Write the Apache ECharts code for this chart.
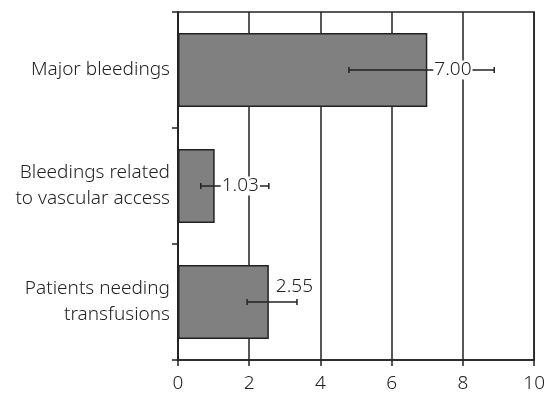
<!DOCTYPE html>
<html>
<head>
<meta charset="utf-8">
<script src="https://cdn.jsdelivr.net/npm/echarts@6/dist/echarts.min.js"></script>
<style>html,body{margin:0;padding:0;background:#fff}#c{width:548px;height:394px}</style>
</head>
<body>
<div id="c"></div>
<script>
var categories = ['Major bleedings', 'Bleedings related\nto vascular access', 'Patients needing\ntransfusions'];
var values = [7.00, 1.03, 2.55];
var errLow = [4.80, 0.64, 1.94];
var errHigh = [8.88, 2.55, 3.34];
var xTicks = [0, 2, 4, 6, 8, 10];

var FONT = '"Noto Sans", sans-serif';
var LINE = '#222';
var chart = echarts.init(document.getElementById('c'));
chart.setOption({
  animation: false,
  grid: { left: 178, right: 13, top: 12, bottom: 34, show: true, borderColor: LINE, borderWidth: 1.5, backgroundColor: 'transparent' },
  xAxis: {
    type: 'value', min: xTicks[0], max: xTicks[xTicks.length - 1], interval: 2,
    axisLine: { show: true, lineStyle: { color: LINE, width: 1.5 } },
    axisTick: { show: true, length: 6, lineStyle: { color: LINE, width: 1.5 } },
    splitLine: { show: true, lineStyle: { color: LINE, width: 1.5 } },
    axisLabel: { color: '#222', fontSize: 19, fontFamily: FONT, fontWeight: 300, margin: 14 }
  },
  yAxis: {
    type: 'category', data: categories, inverse: true,
    axisLine: { show: true, lineStyle: { color: LINE, width: 1.5 } },
    axisTick: { show: true, length: 6, lineStyle: { color: LINE, width: 1.5 } },
    splitLine: { show: false },
    axisLabel: { color: '#222', fontSize: 19, fontFamily: FONT, fontWeight: 300, margin: 8, lineHeight: 26, align: 'right' }
  },
  series: [
    {
      type: 'bar', data: values, barWidth: '64%', z: 2,
      itemStyle: { color: '#808080', borderColor: LINE, borderWidth: 1.5 },
      label: { show: false }
    },
    {
      type: 'custom', z: 3,
      data: values.map(function (v, i) { return [errLow[i], errHigh[i], i, v]; }),
      encode: { x: [0, 1], y: 2 },
      renderItem: function (params, api) {
        var i = api.value(2);
        var lo = api.coord([api.value(0), i]);
        var hi = api.coord([api.value(1), i]);
        var end = api.coord([api.value(3), i]);
        var cap = 3;
        var ls = { stroke: LINE, lineWidth: 1.5 };
        var dy = (i === 2) ? -15 : 0;
        return {
          type: 'group',
          children: [
            { type: 'line', shape: { x1: lo[0], y1: lo[1], x2: hi[0], y2: hi[1] }, style: ls },
            { type: 'line', shape: { x1: lo[0], y1: lo[1] - cap, x2: lo[0], y2: lo[1] + cap }, style: ls },
            { type: 'line', shape: { x1: hi[0], y1: hi[1] - cap, x2: hi[0], y2: hi[1] + cap }, style: ls },
            { type: 'text', z2: 10, x: end[0] + 6, y: end[1] + dy,
              style: { text: api.value(3).toFixed(2), fill: '#222', font: '300 19px ' + FONT,
                       align: 'left', verticalAlign: 'middle', backgroundColor: '#fff', padding: [0, 1] } }
          ]
        };
      }
    }
  ]
});
</script>
</body>
</html>
